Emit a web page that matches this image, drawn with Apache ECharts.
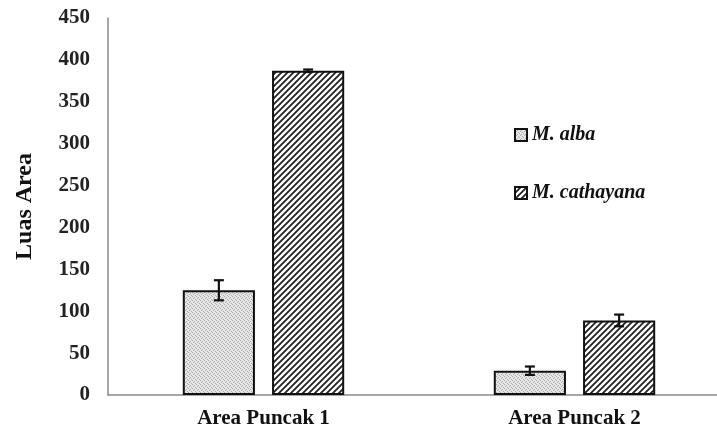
<!DOCTYPE html>
<html>
<head>
<meta charset="utf-8">
<script src="https://cdn.jsdelivr.net/npm/echarts@6/dist/echarts.min.js"></script>
<style>
  html, body { margin: 0; padding: 0; background: #fff; overflow: hidden; }
  /* the plot runs past the right edge of the page, so the canvas is a bit wider */
  #chart { width: 732px; height: 432px; }
</style>
</head>
<body>
<div id="chart"></div>
<script>
// Peak areas per sample, with standard deviation
var categories = ['Area Puncak 1', 'Area Puncak 2'];
var seriesNames = ['M. alba', 'M. cathayana'];
var albaValues = [125, 29];
var albaErrors = [12, 5];
var cathayanaValues = [387, 89];
var cathayanaErrors = [1.5, 7];
var yTicks = [0, 50, 100, 150, 200, 250, 300, 350, 400, 450];

// Fill patterns: fine grey stipple and diagonal hatching
function stipplePattern() {
  var c = document.createElement('canvas');
  c.width = 4; c.height = 4;
  var g = c.getContext('2d');
  g.fillStyle = '#e6e6e6';
  g.fillRect(0, 0, 4, 4);
  g.fillStyle = '#acacac';
  g.fillRect(0, 0, 1, 1);
  g.fillRect(2, 1, 1, 1);
  g.fillRect(1, 2, 1, 1);
  g.fillRect(3, 3, 1, 1);
  return c;
}
function hatchPattern() {
  var s = 6;
  var c = document.createElement('canvas');
  c.width = s; c.height = s;
  var g = c.getContext('2d');
  g.fillStyle = '#ffffff';
  g.fillRect(0, 0, s, s);
  g.strokeStyle = '#222222';
  g.lineWidth = 1.8;
  g.beginPath();
  g.moveTo(-1, s + 1); g.lineTo(s + 1, -1);
  g.moveTo(-1, 1); g.lineTo(1, -1);
  g.moveTo(s - 1, s + 1); g.lineTo(s + 1, s - 1);
  g.stroke();
  return c;
}

var BAR_FRAC = 0.232;   // bar width as fraction of category band
var GAP_FRAC = 0.055;   // gap between the two bars, fraction of band

function errorSeries(name, values, errors, side) {
  var data = values.map(function (v, i) { return [i, v - errors[i], v + errors[i]]; });
  return {
    type: 'custom',
    name: name + ' SD',
    z: 10,
    silent: true,
    data: data,
    renderItem: function (params, api) {
      var band = api.size([1, 0])[0];
      var off = side * (BAR_FRAC + GAP_FRAC) * band / 2;
      var lo = api.coord([api.value(0), api.value(1)]);
      var hi = api.coord([api.value(0), api.value(2)]);
      var x = lo[0] + off;
      var cap = 5;
      var style = { stroke: '#111', lineWidth: 2.2 };
      return {
        type: 'group',
        children: [
          { type: 'line', shape: { x1: x, y1: hi[1], x2: x, y2: lo[1] }, style: style },
          { type: 'line', shape: { x1: x - cap, y1: hi[1], x2: x + cap, y2: hi[1] }, style: style },
          { type: 'line', shape: { x1: x - cap, y1: lo[1], x2: x + cap, y2: lo[1] }, style: style }
        ]
      };
    }
  };
}

var serif = '"Liberation Serif", "DejaVu Serif", serif';
var chart = echarts.init(document.getElementById('chart'), null, { renderer: 'canvas' });

chart.setOption({
  animation: false,
  backgroundColor: '#ffffff',
  grid: { left: 108, top: 18, bottom: 37, width: 622 },
  legend: {
    orient: 'vertical',
    left: 509,
    top: 120,
    itemGap: 38,
    itemWidth: 12,
    itemHeight: 12,
    icon: 'rect',
    data: seriesNames,
    textStyle: { fontFamily: serif, fontStyle: 'italic', fontWeight: 'bold', fontSize: 20, color: '#111' }
  },
  xAxis: {
    type: 'category',
    data: categories,
    axisTick: { show: false },
    axisLine: { lineStyle: { color: '#8a8a8a', width: 1.5 } },
    axisLabel: { fontFamily: serif, fontWeight: 'bold', fontSize: 21, color: '#111', margin: 13 }
  },
  yAxis: {
    type: 'value',
    min: yTicks[0],
    max: yTicks[yTicks.length - 1],
    interval: 50,
    name: 'Luas Area',
    nameLocation: 'middle',
    nameGap: 71,
    nameRotate: 90,
    nameTextStyle: { fontFamily: serif, fontWeight: 'bold', fontSize: 24, color: '#111' },
    splitLine: { show: false },
    axisTick: { show: false },
    axisLine: { show: true, lineStyle: { color: '#8a8a8a', width: 1.5 } },
    axisLabel: { fontFamily: serif, fontWeight: 'bold', fontSize: 21, color: '#222', margin: 18 }
  },
  series: [
    {
      type: 'bar',
      name: seriesNames[0],
      data: albaValues,
      barWidth: (BAR_FRAC * 100) + '%',
      barGap: (GAP_FRAC / BAR_FRAC * 100) + '%',
      itemStyle: { color: { image: stipplePattern(), repeat: 'repeat' }, borderColor: '#111', borderWidth: 2 }
    },
    {
      type: 'bar',
      name: seriesNames[1],
      data: cathayanaValues,
      barWidth: (BAR_FRAC * 100) + '%',
      barGap: (GAP_FRAC / BAR_FRAC * 100) + '%',
      itemStyle: { color: { image: hatchPattern(), repeat: 'repeat' }, borderColor: '#111', borderWidth: 2 }
    },
    errorSeries(seriesNames[0], albaValues, albaErrors, -1),
    errorSeries(seriesNames[1], cathayanaValues, cathayanaErrors, 1)
  ]
});
</script>
</body>
</html>
